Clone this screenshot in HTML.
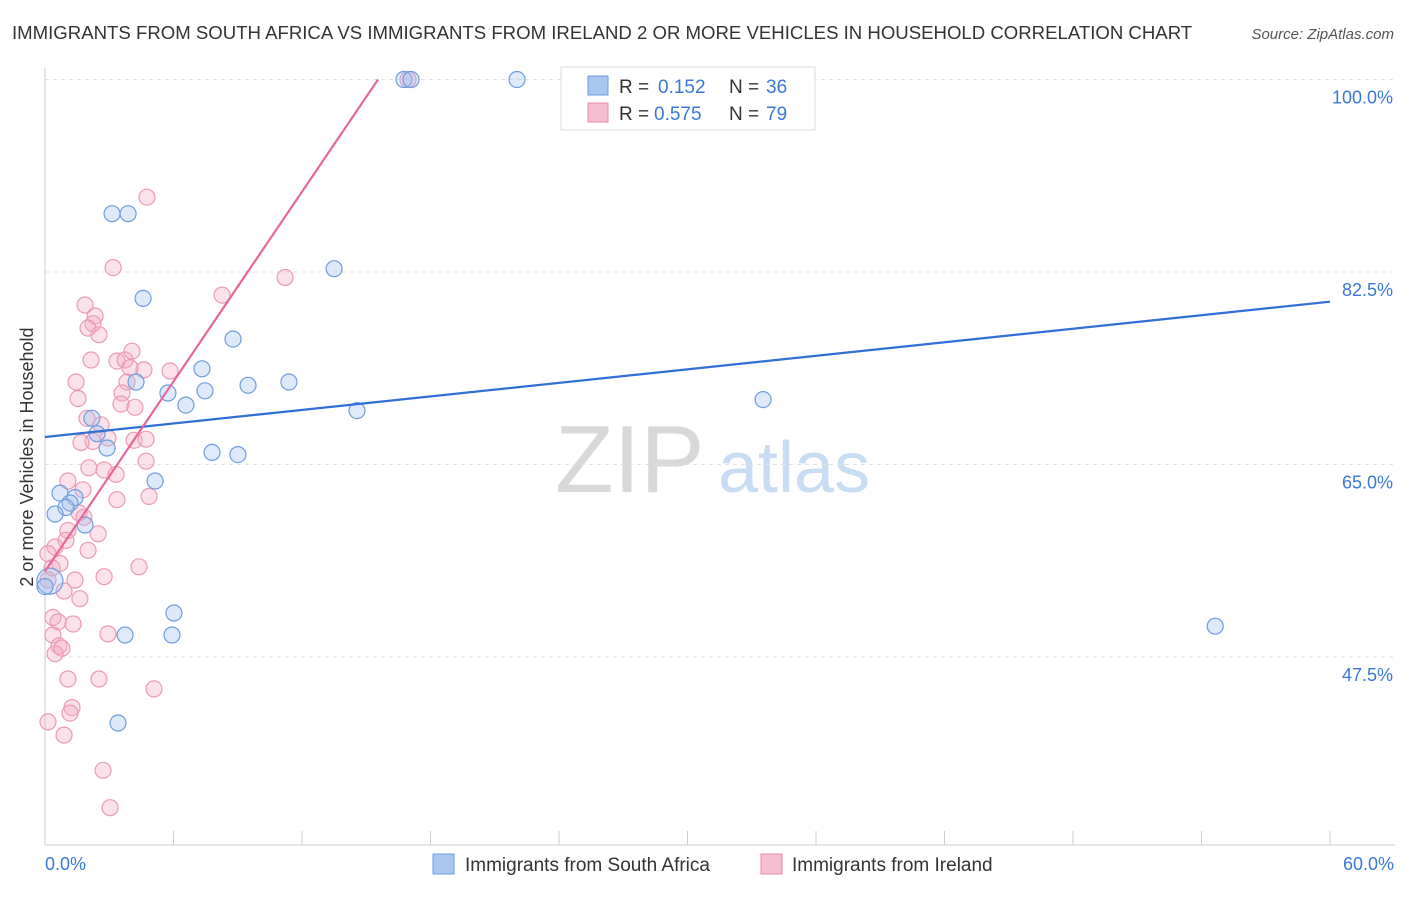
<!DOCTYPE html>
<html><head><meta charset="utf-8">
<style>
body{margin:0;background:#fff;font-family:"Liberation Sans",sans-serif;}
svg text{font-family:"Liberation Sans",sans-serif;}
</style></head>
<body>
<svg id="chart" width="1406" height="892" viewBox="0 0 1406 892" xmlns="http://www.w3.org/2000/svg">
<text x="12" y="39" font-size="18.6" fill="#333">IMMIGRANTS FROM SOUTH AFRICA VS IMMIGRANTS FROM IRELAND 2 OR MORE VEHICLES IN HOUSEHOLD CORRELATION CHART</text>
<text x="1394" y="39" font-size="15" fill="#555" text-anchor="end" font-style="italic">Source: ZipAtlas.com</text>
<g>
<text x="555" y="492" font-size="96" fill="#d8d8d8" font-family="Liberation Serif, serif">ZIP</text>
<text x="718" y="492" font-size="72" fill="#c8dcf3">atlas</text>
</g>
<g id="grid"></g>
<g id="axes"></g>
<g id="marks"></g>
<text transform="translate(33,457) rotate(-90)" font-size="18" fill="#333" text-anchor="middle">2 or more Vehicles in Household</text>
<g>
<rect x="561" y="67" width="254" height="63" fill="#fff" stroke="#ddd"/>
<rect x="588" y="76" width="20" height="19" fill="#a9c6ef" stroke="#6b9be0"/>
<rect x="588" y="103" width="20" height="19" fill="#f7bdd0" stroke="#e88aa9"/>
<text x="619" y="93" font-size="19" fill="#333">R = </text>
<text x="658" y="93" font-size="19" fill="#3a78d8">0.152</text>
<text x="729" y="93" font-size="19" fill="#333">N = </text>
<text x="766" y="93" font-size="19" fill="#3a78d8">36</text>
<text x="619" y="120" font-size="19" fill="#333">R = </text>
<text x="654" y="120" font-size="19" fill="#3a78d8">0.575</text>
<text x="729" y="120" font-size="19" fill="#333">N = </text>
<text x="766" y="120" font-size="19" fill="#3a78d8">79</text>
</g>
<g>
<rect x="433" y="854" width="21" height="20" fill="#a9c6ef" stroke="#6b9be0"/>
<text x="465" y="871" font-size="19" fill="#333">Immigrants from South Africa</text>
<rect x="761" y="854" width="21" height="20" fill="#f7bdd0" stroke="#e88aa9"/>
<text x="792" y="871" font-size="19" fill="#333">Immigrants from Ireland</text>
</g>
</svg>
<script>
const yTicks=[47.5,65.0,82.5,100.0];
const xTickLabels=["0.0%","60.0%"];
const blueX=[16.76,17.09,22.04,3.13,3.88,13.5,4.58,8.78,7.33,4.25,5.74,7.47,9.48,11.39,6.58,14.57,33.53,2.19,2.43,2.9,7.8,9.01,5.14,0.7,1.4,1.17,0.98,0.47,1.87,6.02,3.74,5.93,54.64,3.41,0.23,0];
const blueY=[100,100,100,87.8,87.8,82.8,80.1,76.4,73.7,72.5,71.5,71.7,72.2,72.5,70.4,69.9,70.9,69.2,67.8,66.5,66.1,65.9,63.5,62.4,62.0,61.5,61.1,60.5,59.5,51.5,49.5,49.5,50.3,41.5,54.4,53.9];
const pinkX=[16.95,4.76,3.18,11.21,8.27,1.87,2.34,2.24,2.01,2.52,2.15,3.36,3.74,4.06,4.62,5.84,3.97,1.45,3.83,3.6,1.54,3.55,4.2,1.96,2.62,2.24,2.94,4.16,4.72,1.68,2.05,2.76,3.32,4.72,1.07,1.77,3.36,4.86,1.59,1.82,1.07,2.48,0.98,0.47,0.14,2.01,0.7,0.33,4.39,1.4,2.76,0.14,0.89,1.63,0.37,0.61,1.31,0.37,2.94,0.65,0.47,0.79,1.07,2.52,5.09,1.26,1.17,0.14,0.89,2.71,3.04];
const pinkY=[100,89.3,82.9,82.0,80.4,79.5,78.5,77.8,77.4,76.8,74.5,74.4,74.5,75.3,73.6,73.5,73.8,72.5,72.5,71.5,71.0,70.5,70.2,69.2,68.6,67.1,67.4,67.2,67.3,67.0,64.7,64.5,64.1,65.3,63.5,62.7,61.8,62.1,60.6,60.2,59.0,58.7,58.1,57.5,56.9,57.2,56.0,55.6,55.7,54.5,54.8,54.5,53.5,52.8,51.1,50.7,50.5,49.5,49.6,48.5,47.8,48.3,45.5,45.5,44.6,42.9,42.4,41.6,40.4,37.2,33.8];
const blueTrend=[67.5,79.8];
const pinkTrend=[55.3,100];
const pinkTrendEndX=15.55;

const X=v=>45+v*(1285/60);
const Y=v=>79.5+(100-v)*11;
const NS="http://www.w3.org/2000/svg";
function mk(tag,attrs,parent){const e=document.createElementNS(NS,tag);for(const k in attrs)e.setAttribute(k,attrs[k]);parent.appendChild(e);return e;}
const grid=document.getElementById('grid'),axes=document.getElementById('axes'),marks=document.getElementById('marks');
yTicks.forEach(t=>{
 const l=mk('line',{x1:45,x2:1395,y1:Y(t),y2:Y(t),stroke:'#e2e2e2','stroke-dasharray':'4,4'},grid);
 
 
 const tx=mk('text',{x:1393,y:Y(t)+24,'font-size':18,fill:'#3a78d8','text-anchor':'end'},grid);
 tx.textContent=t.toFixed(1)+'%';
 
 
});
const xa=mk('line',{x1:45,x2:1395,y1:845,y2:845,stroke:'#ccc'},axes);


const ya=mk('line',{x1:45,x2:45,y1:68,y2:845,stroke:'#ccc'},axes);


for(let i=0;i<=10;i++){
 const t=mk('line',{x1:X(i*6),x2:X(i*6),y1:831,y2:845,stroke:'#ccc'},axes);
 
 
}
const xl0=mk('text',{x:45,y:870,'font-size':18,fill:'#3a78d8'},axes);xl0.textContent=xTickLabels[0];


const xl1=mk('text',{x:1394,y:870,'font-size':18,fill:'#3a78d8','text-anchor':'end'},axes);xl1.textContent=xTickLabels[1];


pinkX.forEach((v,i)=>{
 const c=mk('circle',{cx:X(v),cy:Y(pinkY[i]),r:8,fill:'rgba(244,170,195,0.35)',stroke:'#eb9ab5','stroke-width':1.2},marks);
 
 
});
blueX.forEach((v,i)=>{
 const c=mk('circle',{cx:X(v),cy:Y(blueY[i]),r:i==34?13:8,fill:'rgba(160,192,238,0.35)',stroke:'#6f9ddf','stroke-width':1.2},marks);
 
 
});
const bt=mk('line',{x1:X(0),y1:Y(blueTrend[0]),x2:X(60),y2:Y(blueTrend[1]),stroke:'#2f6fd6','stroke-width':2.2},marks);


const pt=mk('line',{x1:X(0),y1:Y(pinkTrend[0]),x2:X(pinkTrendEndX),y2:Y(pinkTrend[1]),stroke:'#e8679a','stroke-width':2.2},marks);


</script>
</body></html>
